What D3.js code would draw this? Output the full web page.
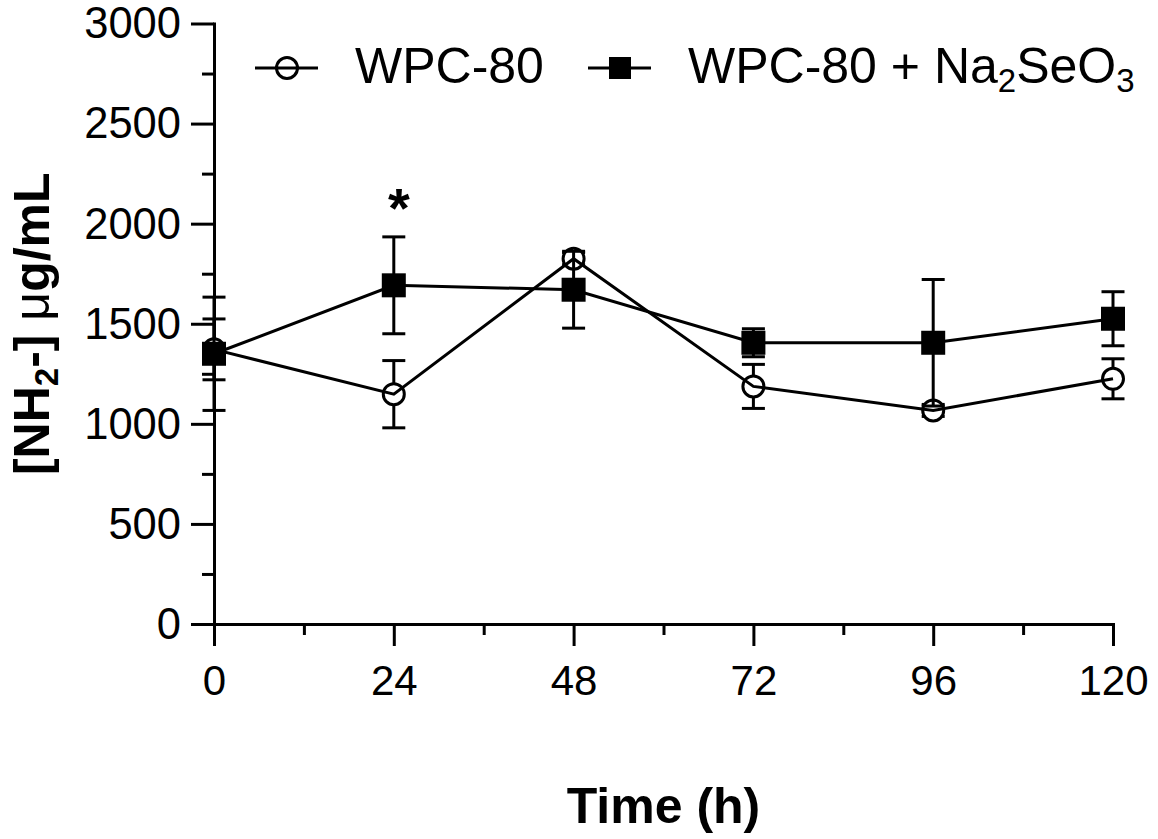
<!DOCTYPE html>
<html>
<head>
<meta charset="utf-8">
<script src="https://cdn.jsdelivr.net/npm/d3@7"></script>
<style>
  body { margin: 0; background: #fff; }
  text { font-family: "Liberation Sans", Arial, sans-serif; fill: #000; }
</style>
</head>
<body>
<script>
// values
const times = [0, 24, 48, 72, 96, 120];
const wpcMean = [1372, 1148, 1825, 1187, 1067, 1225];
const wpcSd = [152, 168, 30, 110, 30, 100];
const seMean = [1350, 1692, 1670, 1405, 1405, 1525];
const seSd = [283, 242, 192, 70, 316, 135];

const xTicks = [0, 24, 48, 72, 96, 120];
const xMinor = [12, 36, 60, 84, 108];
const yTicks = [0, 500, 1000, 1500, 2000, 2500, 3000];
const yMinor = [250, 750, 1250, 1750, 2250, 2750];
const marked = [24]; // time points with a significance star

const width = 1158, height = 839;

const svg = d3.select("body").append("svg")
	.attr("width", width)
	.attr("height", height);

const x = d3.scaleLinear().domain([0, 120]).range([214, 1113]);
const y = d3.scaleLinear().domain([0, 3000]).range([624, 23.5]);

// axes
const xAxis = svg.append("g")
	.attr("transform", `translate(0,${y(0)})`)
	.call(d3.axisBottom(x).tickValues(xTicks).tickSize(22).tickSizeOuter(0).tickPadding(0));
xAxis.selectAll("text")
	.attr("y", 71).attr("dy", 0)
	.attr("font-size", 42);

svg.append("g")
	.attr("transform", `translate(0,${y(0)})`)
	.call(d3.axisBottom(x).tickValues(xMinor).tickSize(11).tickFormat(""))
	.select(".domain").remove();

const yAxis = svg.append("g")
	.attr("transform", `translate(${x(0)},0)`)
	.call(d3.axisLeft(y).tickValues(yTicks).tickFormat(d3.format("d"))
		.tickSize(23).tickSizeOuter(0).tickPadding(10));
yAxis.selectAll("text")
	.attr("dy", "0.33em")
	.attr("font-size", 43.5);

svg.append("g")
	.attr("transform", `translate(${x(0)},0)`)
	.call(d3.axisLeft(y).tickValues(yMinor).tickSize(12).tickFormat(""))
	.select(".domain").remove();

svg.selectAll(".domain, .tick line")
	.attr("stroke", "#000")
	.attr("stroke-width", 3)
	.attr("stroke-linecap", "square");
svg.selectAll(".tick line").attr("stroke-linecap", "butt");
svg.selectAll("g").attr("font-family", null).attr("font-size", null);

// axis titles
svg.append("text")
	.attr("x", (x(0) + x(120)) / 2)
	.attr("y", 823)
	.attr("text-anchor", "middle")
	.attr("font-size", 50)
	.attr("font-weight", "bold")
	.text("Time (h)");

const yTitle = svg.append("text")
	.attr("transform", `translate(49,${(y(0) + y(3000)) / 2}) rotate(-90)`)
	.attr("text-anchor", "middle")
	.attr("font-size", 50)
	.attr("font-weight", "bold");
yTitle.append("tspan").text("[NH");
yTitle.append("tspan").attr("font-size", 33).attr("dy", 9).text("2");
yTitle.append("tspan").attr("dy", -9).text("-] ");
yTitle.append("tspan").attr("font-weight", "normal").text("\u03bc");
yTitle.append("tspan").text("g/mL");

// series
const wpc = times.map((t, i) => ({t, m: wpcMean[i], e: wpcSd[i]}));
const se = times.map((t, i) => ({t, m: seMean[i], e: seSd[i]}));

const line = d3.line().x(d => x(d.t)).y(d => y(d.m));
const capW = 11.5;

function errorBars(data) {
	const g = svg.append("g")
		.attr("stroke", "#000")
		.attr("stroke-width", 3)
		.attr("fill", "none");
	g.selectAll("line.v").data(data).join("line")
		.attr("x1", d => x(d.t)).attr("x2", d => x(d.t))
		.attr("y1", d => y(d.m - d.e)).attr("y2", d => y(d.m + d.e));
	g.selectAll("line.top").data(data).join("line")
		.attr("x1", d => x(d.t) - capW).attr("x2", d => x(d.t) + capW)
		.attr("y1", d => y(d.m + d.e)).attr("y2", d => y(d.m + d.e));
	g.selectAll("line.bot").data(data).join("line")
		.attr("x1", d => x(d.t) - capW).attr("x2", d => x(d.t) + capW)
		.attr("y1", d => y(d.m - d.e)).attr("y2", d => y(d.m - d.e));
}

// WPC-80 (open circles)
errorBars(wpc);
svg.append("g").selectAll("circle").data(wpc).join("circle")
	.attr("cx", d => x(d.t))
	.attr("cy", d => y(d.m))
	.attr("r", 10.5)
	.attr("fill", "#fff")
	.attr("stroke", "#000")
	.attr("stroke-width", 3);
svg.append("path").datum(wpc)
	.attr("d", line)
	.attr("fill", "none")
	.attr("stroke", "#000")
	.attr("stroke-width", 3);

// WPC-80 + Na2SeO3 (filled squares)
errorBars(se);
svg.append("path").datum(se)
	.attr("d", line)
	.attr("fill", "none")
	.attr("stroke", "#000")
	.attr("stroke-width", 3);
svg.append("g").selectAll("rect").data(se).join("rect")
	.attr("x", d => x(d.t) - 12)
	.attr("y", d => y(d.m) - 12)
	.attr("width", 24)
	.attr("height", 24)
	.attr("fill", "#000");

// significance star
svg.append("g").selectAll("text").data(se.filter(d => marked.includes(d.t))).join("text")
	.attr("x", d => x(d.t) + 5)
	.attr("y", d => y(d.m + d.e) - 10)
	.attr("text-anchor", "middle")
	.attr("font-size", 56)
	.attr("font-weight", "bold")
	.text("*");

// legend
const legendY = 68;
svg.append("line")
	.attr("x1", 255).attr("x2", 318).attr("y1", legendY).attr("y2", legendY)
	.attr("stroke", "#000").attr("stroke-width", 3);
svg.append("circle")
	.attr("cx", 287).attr("cy", legendY).attr("r", 10.5)
	.attr("fill", "none").attr("stroke", "#000").attr("stroke-width", 3);
svg.append("text")
	.attr("x", 355).attr("y", 83)
	.attr("font-size", 50)
	.text("WPC-80");

svg.append("line")
	.attr("x1", 588).attr("x2", 651).attr("y1", legendY).attr("y2", legendY)
	.attr("stroke", "#000").attr("stroke-width", 3);
svg.append("rect")
	.attr("x", 609).attr("y", legendY - 11).attr("width", 22).attr("height", 22)
	.attr("fill", "#000");
const leg2 = svg.append("text")
	.attr("x", 688).attr("y", 83)
	.attr("font-size", 50);
leg2.append("tspan").text("WPC-80 + Na");
leg2.append("tspan").attr("font-size", 33).attr("dy", 9).text("2");
leg2.append("tspan").attr("dy", -9).text("SeO");
leg2.append("tspan").attr("font-size", 33).attr("dy", 9).text("3");
</script>
</body>
</html>
